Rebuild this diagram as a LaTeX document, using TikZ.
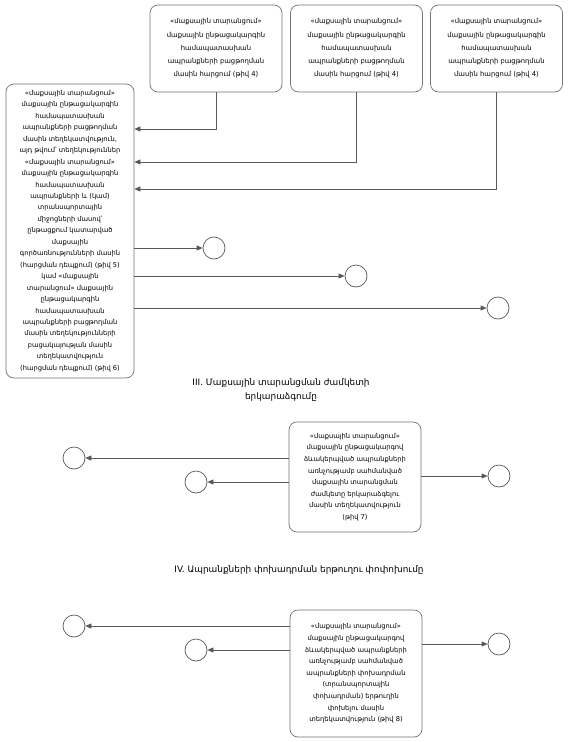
\documentclass[tikz,border=0pt]{standalone}
\usepackage{fontspec}
\newfontfamily\armfont{DejaVu Sans}
\usetikzlibrary{arrows.meta}
\begin{document}
\begin{tikzpicture}[x=1pt,y=-1pt,
  box/.style={draw=black!55,line width=0.7pt,rounded corners=8pt,align=center,inner sep=1pt,
    font=\armfont\fontsize{6.7}{11.6}\selectfont,text=black},
  topbox/.style={box,minimum width=132pt,minimum height=87pt,font=\armfont\fontsize{6.8}{13.3}\selectfont},
  endpt/.style={circle,draw=black!65,line width=0.7pt,minimum size=22pt,inner sep=0pt},
  arr/.style={draw=black!65,line width=0.7pt,-{Triangle[length=6pt,width=5pt]}},
  head/.style={align=center,font=\armfont\fontsize{8.9}{14}\selectfont,text=black}]
\useasboundingbox (0,0) rectangle (571,742);
\fill[white] (0,0) rectangle (571,742);

% top boxes
\node[topbox] (A) at (216,48.5) {«մաքսային տարանցում»\\մաքսային ընթացակարգին\\համապատասխան\\ապրանքների բացթողման\\մասին հարցում (թիվ 4)};
\node[topbox] (B) at (356.5,48.5) {«մաքսային տարանցում»\\մաքսային ընթացակարգին\\համապատասխան\\ապրանքների բացթողման\\մասին հարցում (թիվ 4)};
\node[topbox] (C) at (496.5,48.5) {«մաքսային տարանցում»\\մաքսային ընթացակարգին\\համապատասխան\\ապրանքների բացթողման\\մասին հարցում (թիվ 4)};

% left big box
\node[box,minimum width=128pt,minimum height=294pt,font=\armfont\fontsize{6.7}{11.45}\selectfont] (L) at (70,231) {«մաքսային տարանցում»\\մաքսային ընթացակարգին\\համապատասխան\\ապրանքների բացթողման\\մասին տեղեկատվություն,\\այդ թվում՝ տեղեկություններ\\«մաքսային տարանցում»\\մաքսային ընթացակարգին\\համապատասխան\\ապրանքների և (կամ)\\տրանսպորտային\\միջոցների մասով՝\\ընթացքում կատարված\\մաքսային\\գործառնությունների մասին\\(հարցման դեպքում) (թիվ 5)\\կամ «մաքսային\\տարանցում» մաքսային\\ընթացակարգին\\համապատասխան\\ապրանքների բացթողման\\մասին տեղեկությունների\\բացակայության մասին\\տեղեկատվություն\\(հարցման դեպքում) (թիվ 6)};

\coordinate (ya) at (0,129);
\coordinate (yb) at (0,162);
\coordinate (yc) at (0,189);
\draw[arr] (A.south) |- (L.east |- ya);
\draw[arr] (B.south) |- (L.east |- yb);
\draw[arr] (C.south) |- (L.east |- yc);

\node[endpt] (c1) at (214,248) {};
\node[endpt] (c2) at (356,276) {};
\node[endpt] (c3) at (498,308) {};
\draw[arr] (L.east |- c1) -- (c1);
\draw[arr] (L.east |- c2) -- (c2);
\draw[arr] (L.east |- c3) -- (c3);

% section III
\node[head] (h3) at (281,390) {III. Մաքսային տարանցման ժամկետի\\երկարաձգումը};
\node[box,minimum width=132pt,minimum height=110pt] (D) at (355,477) {«մաքսային տարանցում»\\մաքսային ընթացակարգով\\ձևակերպված ապրանքների\\առնչությամբ սահմանված\\մաքսային տարանցման\\ժամկետը երկարաձգելու\\մասին տեղեկատվություն\\(թիվ 7)};
\node[endpt] (c4) at (74,458) {};
\node[endpt] (c5) at (196,482) {};
\node[endpt] (c6) at (499,476) {};
\draw[arr] (D.west |- c4) -- (c4);
\draw[arr] (D.west |- c5) -- (c5);
\draw[arr] (D.east |- c6) -- (c6);

% section IV
\node[head] (h4) at (299,570) {IV. Ապրանքների փոխադրման երթուղու փոփոխումը};
\node[box,minimum width=132pt,minimum height=127pt] (E) at (356,673.5) {«մաքսային տարանցում»\\մաքսային ընթացակարգով\\ձևակերպված ապրանքների\\առնչությամբ սահմանված\\ապրանքների փոխադրման\\(տրանսպորտային\\փոխադրման) երթուղին\\փոխելու մասին\\տեղեկատվություն (թիվ 8)};
\node[endpt] (c7) at (74,626) {};
\node[endpt] (c8) at (196,650) {};
\node[endpt] (c9) at (499,644) {};
\draw[arr] (E.west |- c7) -- (c7);
\draw[arr] (E.west |- c8) -- (c8);
\draw[arr] (E.east |- c9) -- (c9);
\end{tikzpicture}
\end{document}
